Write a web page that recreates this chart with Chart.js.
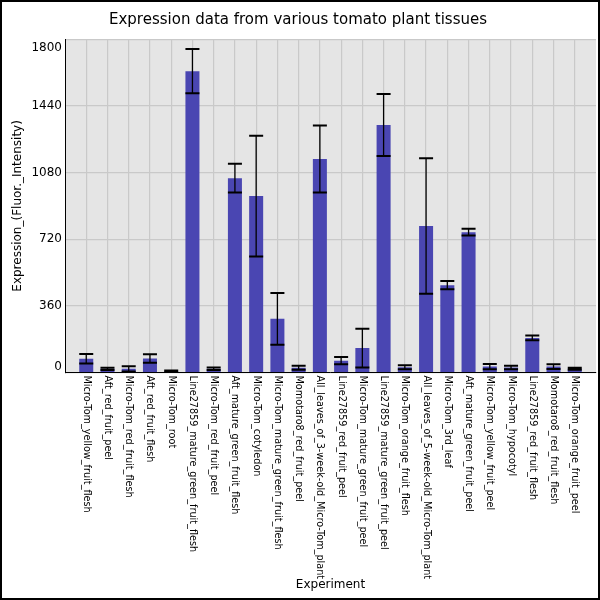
<!DOCTYPE html>
<html>
<head>
    <title>Tomato expression</title>
    <script src="https://cdn.jsdelivr.net/npm/chart.js"></script>
    <style>
        body { margin: 0; background: #fff; }
        #exprChart { display: block; }
    </style>
</head>
<body>
    <canvas id="exprChart" width="600" height="600"></canvas>
    <script>
        // data
        const experiments = [
            'Micro-Tom_yellow_fruit_flesh', 'Aft_red_fruit_peel', 'Micro-Tom_red_fruit_flesh',
            'Aft_red_fruit_flesh', 'Micro-Tom_root', 'Line27859_mature_green_fruit_flesh',
            'Micro-Tom_red_fruit_peel', 'Aft_mature_green_fruit_flesh', 'Micro-Tom_cotyledon',
            'Micro-Tom_mature_green_fruit_flesh', 'Momotaro8_red_fruit_peel',
            'All_leaves_of_3-week-old_Micro-Tom_plant', 'Line27859_red_fruit_peel',
            'Micro-Tom_mature_green_fruit_peel', 'Line27859_mature_green_fruit_peel',
            'Micro-Tom_orange_fruit_flesh', 'All_leaves_of_5-week-old_Micro-Tom_plant',
            'Micro-Tom_3rd_leaf', 'Aft_mature_green_fruit_peel', 'Micro-Tom_yellow_fruit_peel',
            'Micro-Tom_hypocotyl', 'Line27859_red_fruit_flesh', 'Momotaro8_red_fruit_flesh',
            'Micro-Tom_orange_fruit_peel'
        ];
        const expression = [74, 20, 20, 76, 6, 1628, 20, 1050, 953, 290, 26, 1153,
                            64, 132, 1337, 28, 791, 472, 758, 32, 27, 187, 32, 20];
        const stdDev = [26, 6, 14, 23, 5, 120, 7, 78, 326, 140, 11, 181,
                        20, 105, 168, 11, 366, 22, 18, 14, 9, 13, 13, 5];
        const yTicks = [0, 360, 720, 1080, 1440, 1800];

        const FONT = '"DejaVu Sans", sans-serif';

        const decor = {
            id: 'decor',
            beforeDraw(chart) {
                const { ctx, chartArea: a } = chart;
                ctx.save();
                ctx.fillStyle = '#fff';
                ctx.fillRect(0, 0, chart.width, chart.height);
                ctx.fillStyle = '#e5e5e5';
                ctx.fillRect(a.left, a.top, a.right - a.left, a.bottom - a.top);
                ctx.restore();
            },
            afterDatasetsDraw(chart) {
                const { ctx, chartArea: a } = chart;
                const yScale = chart.scales.y;
                const bars = chart.getDatasetMeta(0).data;
                ctx.save();
                ctx.beginPath();
                ctx.rect(a.left, a.top - 2, a.right - a.left, a.bottom - a.top + 2);
                ctx.clip();
                ctx.strokeStyle = '#000';
                bars.forEach((bar, i) => {
                    const hi = yScale.getPixelForValue(expression[i] + stdDev[i]);
                    const lo = yScale.getPixelForValue(expression[i] - stdDev[i]);
                    const half = bar.width / 2;
                    ctx.lineWidth = 1.3;
                    ctx.beginPath();
                    ctx.moveTo(bar.x, hi);
                    ctx.lineTo(bar.x, lo);
                    ctx.stroke();
                    ctx.lineWidth = 2;
                    ctx.beginPath();
                    ctx.moveTo(bar.x - half, hi);
                    ctx.lineTo(bar.x + half, hi);
                    ctx.moveTo(bar.x - half, lo);
                    ctx.lineTo(bar.x + half, lo);
                    ctx.stroke();
                });
                ctx.restore();
            },
            afterDraw(chart) {
                const { ctx, chartArea: a } = chart;
                const xScale = chart.scales.x;
                const yScale = chart.scales.y;
                ctx.save();
                ctx.fillStyle = '#000';

                // category labels, turned clockwise
                ctx.font = '9.7px ' + FONT;
                ctx.textAlign = 'left';
                ctx.textBaseline = 'middle';
                experiments.forEach((name, i) => {
                    ctx.save();
                    ctx.translate(xScale.getPixelForValue(i), a.bottom + 3);
                    ctx.rotate(Math.PI / 2);
                    ctx.fillText(name, 0, 0);
                    ctx.restore();
                });

                // value labels, end ones pulled inside the axis
                ctx.font = '12px ' + FONT;
                ctx.textAlign = 'right';
                yTicks.forEach(v => {
                    let y = yScale.getPixelForValue(v);
                    y = Math.min(Math.max(y, a.top + 9), a.bottom - 5.5);
                    ctx.fillText(String(v), a.left - 3, y);
                });

                // figure frame
                ctx.strokeStyle = '#000';
                ctx.lineWidth = 2;
                ctx.strokeRect(1, 1, chart.width - 2, chart.height - 2);
                ctx.restore();
            }
        };

        const ctx = document.getElementById('exprChart').getContext('2d');
        new Chart(ctx, {
            type: 'bar',
            data: {
                datasets: [{
                    data: expression.map((v, i) => ({ x: i, y: v })),
                    backgroundColor: '#4a46b2',
                    barPercentage: 0.66,
                    categoryPercentage: 1
                }]
            },
            options: {
                responsive: false,
                animation: false,
                layout: { padding: { left: 0, right: 4, top: 0, bottom: 0 } },
                plugins: {
                    legend: { display: false },
                    tooltip: { enabled: false },
                    title: {
                        display: true,
                        text: 'Expression data from various tomato plant tissues',
                        color: '#000',
                        font: { family: FONT, size: 15, weight: 'normal' },
                        padding: { top: 11, bottom: 10.3 }
                    }
                },
                scales: {
                    x: {
                        type: 'linear',
                        offset: false,
                        min: -1,
                        max: experiments.length,
                        ticks: { display: false, stepSize: 1, autoSkip: false, maxTicksLimit: 40 },
                        grid: {
                            offset: false,
                            drawTicks: false,
                            lineWidth: 1.2,
                            color: c => (c.tick && c.tick.value >= 0 && c.tick.value < experiments.length)
                                ? '#c9c9c9' : 'rgba(0,0,0,0)'
                        },
                        border: { color: '#000', width: 1 },
                        title: {
                            display: true,
                            text: 'Experiment',
                            color: '#000',
                            font: { family: FONT, size: 12 },
                            padding: { top: 0, bottom: 8 }
                        },
                        afterFit: s => { s.height = 227.5; }
                    },
                    y: {
                        min: 0,
                        max: 1800,
                        ticks: { display: false, stepSize: 360 },
                        grid: { drawTicks: false, lineWidth: 1.2, color: '#c9c9c9' },
                        border: { color: '#000', width: 1 },
                        title: {
                            display: true,
                            text: 'Expression_(Fluor._Intensity)',
                            color: '#000',
                            font: { family: FONT, size: 12 },
                            padding: { top: 11, bottom: 0 }
                        },
                        afterFit: s => { s.width = 65; }
                    }
                }
            },
            plugins: [decor]
        });
    </script>
</body>
</html>
